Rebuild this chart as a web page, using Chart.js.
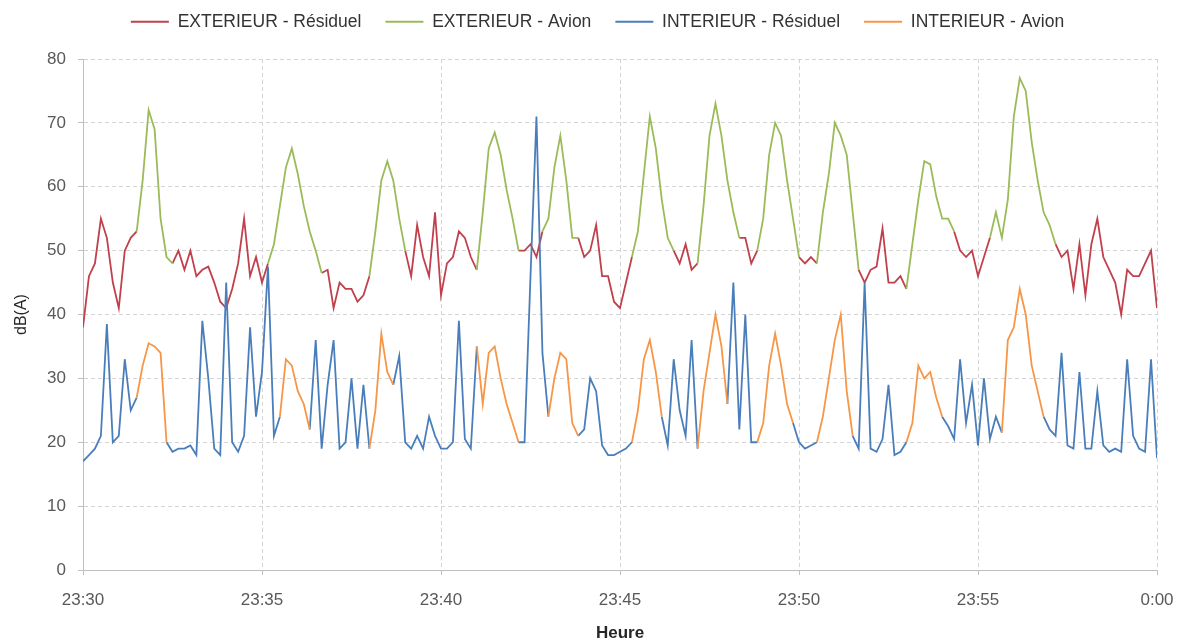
<!DOCTYPE html>
<html lang="fr">
<head>
<meta charset="utf-8">
<title>Niveaux sonores 23:30 - 0:00</title>
<script src="https://cdn.jsdelivr.net/npm/chart.js@4.4.1/dist/chart.umd.min.js"></script>
<style>
  html, body { margin: 0; padding: 0; background: #fff; }
  #cadre { width: 1189px; height: 644px; }
</style>
</head>
<body>
<div id="cadre"><canvas id="bruit"></canvas></div>
<script>
// Une valeur toutes les 10 s, de 23:30:00 à 0:00:00 (181 points), en dB(A)
const exterieur = [
  38, 46, 48, 55, 52, 45, 41, 50, 52, 53,
  61, 72, 69, 55, 49, 48, 50, 47, 50, 46,
  47, 47.5, 45, 42, 41, 44, 48, 55, 46, 49,
  45, 48, 51, 57, 63, 66, 62, 57, 53, 50,
  46.5, 47, 41, 45, 44, 44, 42, 43, 46, 53,
  61, 64, 61, 55, 50, 46, 54, 49, 46, 56,
  43, 48, 49, 53, 52, 49, 47, 56, 66, 68.5,
  65, 59.5, 55, 50, 50, 51, 49, 53, 55, 63,
  68, 61, 52, 52, 49, 50, 54, 46, 46, 42,
  41, 45, 49, 53, 62, 71, 66, 58, 52, 50,
  48, 51, 47, 48, 57, 68, 73, 68, 61, 56,
  52, 52, 48, 50, 55, 65, 70, 68, 61, 55,
  49, 48, 49, 48, 56, 62, 70, 68, 65, 56,
  47, 45, 47, 47.5, 53.5, 45, 45, 46, 44, 51,
  58, 64, 63.5, 58.5, 55, 55, 53, 50, 49, 50,
  46, 49, 52, 56, 52, 58, 71, 77, 75, 67,
  61, 56, 54, 51, 49, 50, 44, 51, 43, 51,
  55, 49, 47, 45, 40, 47, 46, 46, 48, 50,
  41
];
const interieur = [
  17, 18, 19, 21, 38.5, 20, 21, 33, 25, 27,
  32, 35.5, 35, 34, 20, 18.5, 19, 19, 19.5, 18,
  39, 30, 19, 18, 45, 20, 18.5, 21, 38, 24,
  31, 47.5, 21, 24, 33, 32, 28, 26, 22, 36,
  19, 29, 36, 19, 20, 30, 19, 29, 19, 25,
  37, 31, 29, 33.5, 20, 19, 21, 19, 24, 21,
  19, 19, 20, 39, 20.5, 19, 35, 26, 34, 35,
  30, 26, 23, 20, 20, 46, 71, 34, 24, 30,
  34, 33, 23, 21, 22, 30, 28, 19.5, 18, 18,
  18.5, 19, 20, 25, 33, 36, 31, 24, 19.5, 33,
  25, 21, 36, 19, 28, 34, 40, 35, 26, 45,
  22, 40, 20, 20, 23, 32, 37, 32, 26, 23,
  20, 19, 19.5, 20, 24, 30, 36, 40, 28, 21,
  19, 45, 19, 18.5, 20.5, 29, 18, 18.5, 20, 23,
  32, 30, 31, 27, 24, 22.5, 20.5, 33, 23, 29,
  19.5, 30, 20.5, 24, 21.5, 36, 38, 44, 40, 32,
  28, 24, 22, 21, 34, 19.5, 19, 31, 19, 19,
  28, 19.5, 18.5, 19, 18.5, 33, 21, 19, 18.5, 33,
  17.5
];
// Passages avion : [premier, dernier] indice dans les séries ci-dessus
const avionsExt = [[9, 15], [31, 40], [48, 54], [66, 73], [77, 83], [92, 99], [103, 110], [113, 120], [123, 130], [138, 146], [152, 163]];
const avionsInt = [[9, 14], [33, 38], [48, 52], [66, 73], [78, 83], [92, 97], [103, 108], [113, 119], [123, 129], [138, 144], [154, 161]];
const heures = ['23:30', '23:35', '23:40', '23:45', '23:50', '23:55', '0:00'];
const pasSecondes = 10;

function dansAvion(i, avions, strict) {
  return avions.some(([a, b]) => strict ? (i > a && i < b) : (i >= a && i <= b));
}

function points(valeurs, garder) {
  return valeurs.map((v, i) => ({ x: i * pasSecondes, y: garder(i) ? v : null }));
}

function serie(label, data, couleur, ordre) {
  return {
    label: label,
    data: data,
    borderColor: couleur,
    backgroundColor: couleur,
    borderWidth: 1.8,
    pointRadius: 0,
    pointStyle: 'line',
    tension: 0,
    spanGaps: false,
    order: ordre
  };
}

// espace entre la légende et le graphique
const espaceLegende = {
  id: 'espaceLegende',
  beforeInit(chart) {
    const fitOrig = chart.legend.fit;
    chart.legend.fit = function () {
      fitOrig.call(this);
      this.height += 18.5;
    };
  }
};

const police = "'Liberation Sans', Arial, sans-serif";
const policeAxes = { family: police, size: 17 };
const grille = { color: '#d4d4d4', tickColor: '#bfbfbf', tickLength: 5, tickBorderDash: [] };
const bordure = { color: '#bfbfbf', width: 1, dash: [4, 3] };

new Chart(document.getElementById('bruit'), {
  type: 'line',
  data: {
    datasets: [
      serie('EXTERIEUR - Résiduel', points(exterieur, i => !dansAvion(i, avionsExt, true)), '#c0404c', 3),
      serie('EXTERIEUR - Avion', points(exterieur, i => dansAvion(i, avionsExt, false)), '#9bbb59', 2),
      serie('INTERIEUR - Résiduel', points(interieur, i => !dansAvion(i, avionsInt, true)), '#4a7ebb', 1),
      serie('INTERIEUR - Avion', points(interieur, i => dansAvion(i, avionsInt, false)), '#f79646', 0)
    ]
  },
  options: {
    responsive: true,
    maintainAspectRatio: false,
    animation: false,
    layout: { padding: { top: -11, right: 32, bottom: 0, left: 38 } },
    plugins: {
      tooltip: { enabled: false },
      legend: {
        position: 'top',
        labels: {
          usePointStyle: true,
          pointStyle: 'line',
          pointStyleWidth: 38,
          padding: 24,
          color: '#333',
          font: { family: police, size: 17.5 },
          sort: (a, b) => a.datasetIndex - b.datasetIndex
        }
      }
    },
    scales: {
      x: {
        type: 'linear',
        min: 0,
        max: 1800,
        ticks: {
          stepSize: 300,
          callback: v => heures[v / 300],
          color: '#595959',
          font: policeAxes,
          padding: 15,
          maxRotation: 0,
          autoSkip: false
        },
        grid: grille,
        border: bordure,
        title: {
          display: true,
          text: 'Heure',
          color: '#262626',
          font: { family: police, size: 17, weight: 'bold' },
          padding: { top: 0, bottom: 0 }
        },
        afterFit: s => { s.height = 74; }
      },
      y: {
        min: 0,
        max: 80,
        ticks: {
          stepSize: 10,
          color: '#595959',
          font: policeAxes,
          padding: 12
        },
        grid: grille,
        border: bordure,
        title: {
          display: true,
          text: 'dB(A)',
          color: '#262626',
          font: { family: police, size: 16 },
          padding: { top: -26, bottom: 0 }
        },
        afterFit: s => { s.width = 45; }
      }
    }
  },
  plugins: [espaceLegende]
});
</script>
</body>
</html>
